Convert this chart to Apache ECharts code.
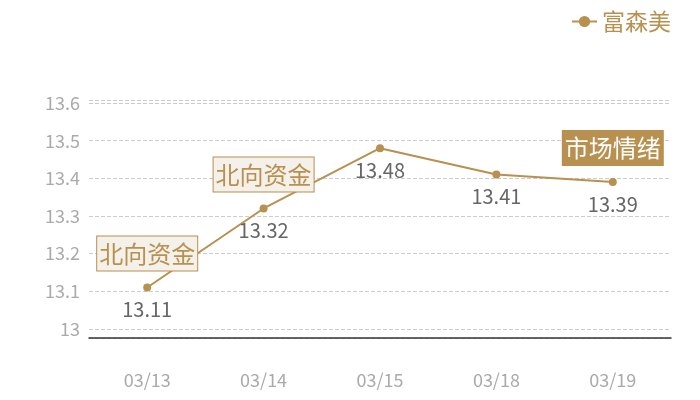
<!DOCTYPE html>
<html><head><meta charset="utf-8">
<script src="https://cdn.jsdelivr.net/npm/echarts@6/dist/echarts.min.js"></script>
<style>html,body{margin:0;padding:0;background:#fff}#c{width:700px;height:400px}</style>
</head><body><div id="c"></div>
<script>
const categories = ['03/13','03/14','03/15','03/18','03/19'];
const prices = [13.11, 13.32, 13.48, 13.41, 13.39];
const seriesName = '富森美';
const yMin = 12.976, yMax = 13.608;
const notes = [
  {cat:'03/13', value:13.11, text:'北向资金', filled:false},
  {cat:'03/14', value:13.32, text:'北向资金', filled:false},
  {cat:'03/19', value:13.39, text:'市场情绪', filled:true}
];
const gold = '#b8904f';
const font = '"Noto Sans CJK SC", "Noto Sans", sans-serif';
const chart = echarts.init(document.getElementById('c'));
chart.setOption({
  animation:false,
  textStyle:{fontFamily:font},
  legend:{
    right:24, top:5, itemWidth:25, itemHeight:14, itemGap:6,
    textStyle:{color:gold, fontSize:23, fontFamily:font},
    data:[seriesName]
  },
  grid:{left:89, right:29, top:100, bottom:62},
  xAxis:{
    type:'category', data:categories, boundaryGap:true,
    axisLine:{lineStyle:{color:'#333', width:1.5}},
    axisTick:{show:false},
    axisLabel:{color:'#aaa', fontSize:18, margin:33, fontFamily:font}
  },
  yAxis:{
    type:'value', min:yMin, max:yMax, splitNumber:6,
    axisLine:{show:false}, axisTick:{show:false},
    axisLabel:{color:'#aaa', fontSize:18, margin:9, fontFamily:font,
      formatter: v => Math.abs(v*10 - Math.round(v*10)) < 1e-6 ? String(+v.toFixed(1)) : ''},
    splitLine:{lineStyle:{color:'#ccc', type:'dashed', width:1}}
  },
  series:[{
    name:seriesName, type:'line', data:prices,
    symbol:'circle', symbolSize:8,
    itemStyle:{color:gold},
    lineStyle:{color:gold, width:2},
    label:{show:true, position:'bottom', distance:8, color:'#666', fontSize:20, fontFamily:font},
    markPoint:{
      symbol:'rect', symbolSize:0,
      data: notes.map(n => ({
        coord:[n.cat, n.value],
        label:{
          show:true, position:'inside', offset:[0,-34], formatter:n.text,
          fontSize:24, lineHeight:24, fontFamily:font,
          color: n.filled ? '#fff' : gold,
          backgroundColor: n.filled ? gold : '#f4f0ea',
          borderColor: gold, borderWidth:1,
          padding:[5,2,5,2]
        }
      }))
    }
  }]
});
</script></body></html>
